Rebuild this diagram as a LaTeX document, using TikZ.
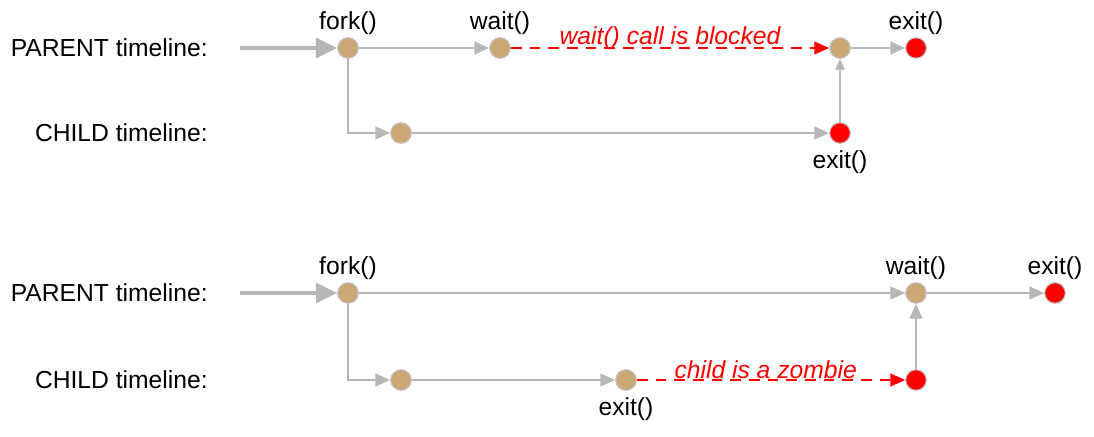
\documentclass[tikz,border=0pt]{standalone}
\usepackage{fontspec}
\setmainfont{Liberation Sans}
\usepackage{tikz}
\usetikzlibrary{arrows.meta,positioning}
\definecolor{cTan}{HTML}{CCA776}
\definecolor{cRim}{HTML}{C4C4C4}
\definecolor{cLine}{HTML}{B7B7B7}
\definecolor{cRed}{HTML}{FF0000}
\tikzset{
  ev/.style={circle,fill=#1,draw=cRim,line width=0.8pt,minimum size=15.5pt,inner sep=0pt},
  ev/.default=cTan,
  arr/.style={-{Triangle[length=11pt,width=9.5pt]},line width=1.6pt,color=cLine},
  tarr/.style={-{Triangle[length=8pt,width=7pt]},line width=1pt,color=cLine},
  inarr/.style={-{Triangle[length=16pt,width=15pt]},line width=3pt,color=cLine},
  warr/.style={-{Triangle[length=11pt,width=9.5pt]},line width=1.6pt,color=cRed,dash pattern=on 8pt off 6pt},
  rowlbl/.style={anchor=east,font=\fontsize{18.5}{22}\selectfont,inner sep=0pt},
  call/.style={font=\fontsize{18.5}{22}\selectfont,inner sep=1pt},
  note/.style={font=\fontsize{18.5}{22}\selectfont\itshape,text=cRed,inner sep=1pt},
}
\begin{document}
\begin{tikzpicture}[x=0.75pt,y=-0.75pt]
  \useasboundingbox (0,0) rectangle (1094,436);

  % first case: parent waits before the child exits
  \node[rowlbl] (lp1) at (208,48) {PARENT timeline:};
  \node[rowlbl] (lc1) at (208,133) {CHILD timeline:};
  \coordinate (in1) at (240,48);
  \node[ev] (fa) at (348,48) {};
  \node[ev] (wa) at (500,48) {};
  \node[ev] (ra) at (840,48) {};
  \node[ev=cRed] (xa) at (916,48) {};
  \node[ev] (ca) at (401,133) {};
  \node[ev=cRed] (ea) at (840,133) {};
  \node[call,above=1pt of fa] {fork()};
  \node[call,above=1pt of wa] {wait()};
  \node[call,above=1pt of xa] {exit()};
  \node[call,below=4pt of ea] {exit()};
  \draw[inarr] (in1) -- (fa);
  \draw[arr] (fa) -- (wa);
  \draw[arr] (fa) |- (ca);
  \draw[arr] (ca) -- (ea);
  \draw[warr] (wa) -- node[note,above=-3pt] {wait() call is blocked} (ra);
  \draw[tarr] (ea) -- (ra);
  \draw[arr] (ra) -- (xa);

  % second case: child exits first and stays a zombie
  \node[rowlbl] (lp2) at (208,293) {PARENT timeline:};
  \node[rowlbl] (lc2) at (208,380) {CHILD timeline:};
  \coordinate (in2) at (240,293);
  \node[ev] (fb) at (348,293) {};
  \node[ev] (wb) at (916,293) {};
  \node[ev=cRed] (xb) at (1055,293) {};
  \node[ev] (cb) at (401,380) {};
  \node[ev] (eb) at (626,380) {};
  \node[ev=cRed] (zb) at (916,380) {};
  \node[call,above=1pt of fb] {fork()};
  \node[call,above=1pt of wb] {wait()};
  \node[call,above=1pt of xb] {exit()};
  \node[call,below=4pt of eb] {exit()};
  \draw[inarr] (in2) -- (fb);
  \draw[arr] (fb) -- (wb);
  \draw[arr] (fb) |- (cb);
  \draw[arr] (cb) -- (eb);
  \draw[warr] (eb) -- node[note,above=-1pt,xshift=-4pt] {child is a zombie} (zb);
  \draw[arr] (zb) -- (wb);
  \draw[arr] (wb) -- (xb);
\end{tikzpicture}
\end{document}
